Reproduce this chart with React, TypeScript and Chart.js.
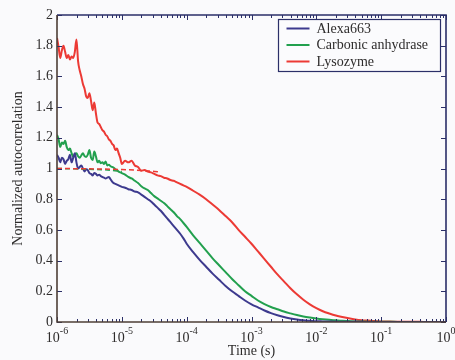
import React, { useEffect, useRef } from "react";
import { Chart, registerables } from "chart.js";

Chart.register(...registerables);

// Series labels and colours
const seriesNames = ["Alexa663", "Carbonic anhydrase", "Lysozyme"];
const seriesColors = ["#3d3a8e", "#22a04e", "#ec3a35"];

// Lag times (s) shared by the three measured curves
const lagTime = [
  // 1e-6 .. 1e-5
  1.0e-6, 1.059e-6, 1.122e-6, 1.189e-6, 1.259e-6, 1.334e-6, 1.413e-6, 1.496e-6, 1.585e-6, 1.679e-6,
  1.778e-6, 1.884e-6, 1.995e-6, 2.113e-6, 2.239e-6, 2.371e-6, 2.512e-6, 2.661e-6, 2.818e-6, 2.985e-6,
  3.162e-6, 3.35e-6, 3.548e-6, 3.758e-6, 3.981e-6, 4.217e-6, 4.467e-6, 4.732e-6, 5.012e-6, 5.309e-6,
  5.623e-6, 5.957e-6, 6.31e-6, 6.683e-6, 7.079e-6, 7.499e-6, 7.943e-6, 8.414e-6, 8.913e-6, 9.441e-6,
  // 1e-5 .. 1e-4
  1.0e-5, 1.122e-5, 1.259e-5, 1.413e-5, 1.585e-5, 1.778e-5, 1.995e-5, 2.239e-5, 2.512e-5, 2.818e-5,
  3.162e-5, 3.548e-5, 3.981e-5, 4.467e-5, 5.012e-5, 5.623e-5, 6.31e-5, 7.079e-5, 7.943e-5, 8.913e-5,
  // 1e-4 .. 1
  1.0e-4, 1.259e-4, 1.585e-4, 1.995e-4, 2.512e-4, 3.162e-4, 3.981e-4, 5.012e-4, 6.31e-4, 7.943e-4,
  1.0e-3, 1.259e-3, 1.585e-3, 1.995e-3, 2.512e-3, 3.162e-3, 3.981e-3, 5.012e-3, 6.31e-3, 7.943e-3,
  1.0e-2, 1.259e-2, 1.585e-2, 1.995e-2, 2.512e-2, 3.162e-2, 3.981e-2, 5.012e-2, 6.31e-2, 7.943e-2,
  1.0e-1, 1.259e-1, 1.585e-1, 1.995e-1, 2.512e-1, 3.162e-1, 3.981e-1, 5.012e-1, 6.31e-1, 7.943e-1,
  1.0,
];

// Alexa663 normalized autocorrelation
const alexaValue = [
  1.09, 1.07, 1.04, 1.07, 1.06, 1.03, 1.05, 1.06, 1.09, 1.04,
  1.07, 1.1, 1.04, 1.0, 1.01, 1.02, 1.0, 0.98, 0.995, 0.99,
  0.97, 0.965, 0.955, 0.97, 0.965, 0.955, 0.96, 0.95, 0.945, 0.94,
  0.935, 0.94, 0.945, 0.93, 0.915, 0.905, 0.9, 0.895, 0.89, 0.885,
  0.88, 0.875, 0.865, 0.86, 0.85, 0.845, 0.83, 0.815, 0.8, 0.785,
  0.765, 0.745, 0.725, 0.7, 0.675, 0.65, 0.625, 0.6, 0.575, 0.545,
  0.51, 0.455, 0.405, 0.36, 0.315, 0.275, 0.235, 0.2, 0.17, 0.14,
  0.115, 0.095, 0.075, 0.058, 0.044, 0.032, 0.023, 0.016, 0.011, 0.008,
  0.005, 0.004, 0.003, 0.002, 0.002, 0.001, 0.001, 0.001, 0.0, 0.0,
  0.0, 0.0, 0.0, 0.0, 0.0, 0.0, 0.0, 0.0, 0.0, 0.0,
  0.0,
];

// Carbonic anhydrase normalized autocorrelation
const carbonicValue = [
  1.22, 1.19, 1.14, 1.17, 1.16, 1.18, 1.14, 1.12, 1.13, 1.1,
  1.075, 1.09, 1.1, 1.08, 1.07, 1.085, 1.1, 1.08, 1.075, 1.09,
  1.12, 1.07, 1.055, 1.11, 1.08, 1.04, 1.05, 1.035, 1.04, 1.03,
  1.045, 1.02, 1.025, 1.015, 1.01, 1.005, 0.995, 0.99, 0.98, 0.975,
  0.97, 0.96, 0.945, 0.935, 0.92, 0.905, 0.885, 0.87, 0.86, 0.84,
  0.82, 0.805, 0.79, 0.775, 0.755, 0.735, 0.715, 0.69, 0.67, 0.645,
  0.62, 0.565, 0.515, 0.465, 0.415, 0.37, 0.325, 0.28, 0.24, 0.2,
  0.17, 0.14, 0.117, 0.098, 0.083, 0.068, 0.056, 0.045, 0.036, 0.029,
  0.023, 0.018, 0.014, 0.011, 0.008, 0.006, 0.004, 0.003, 0.002, 0.002,
  0.001, 0.001, 0.001, 0.0, 0.0, 0.0, 0.0, 0.0, 0.0, 0.0,
  0.0,
];

// Lysozyme normalized autocorrelation
const lysozymeValue = [
  1.85, 1.79, 1.72, 1.77, 1.8, 1.76, 1.72, 1.74, 1.71, 1.73,
  1.72, 1.76, 1.84, 1.7, 1.64, 1.6, 1.55, 1.52, 1.47, 1.46,
  1.49, 1.44, 1.38, 1.43, 1.36, 1.3, 1.29, 1.27, 1.25, 1.24,
  1.22, 1.21, 1.19, 1.18, 1.16, 1.15, 1.12, 1.13, 1.1, 1.07,
  1.03, 1.05, 1.04, 1.05, 1.02, 1.01, 0.985, 0.99, 0.98, 0.975,
  0.965, 0.955, 0.95, 0.94, 0.935, 0.925, 0.92, 0.91, 0.9, 0.89,
  0.88, 0.855, 0.83, 0.8, 0.765, 0.73, 0.69, 0.65, 0.6, 0.555,
  0.51, 0.46, 0.41, 0.36, 0.31, 0.265, 0.22, 0.18, 0.145, 0.115,
  0.09, 0.07, 0.055, 0.042, 0.032, 0.024, 0.017, 0.012, 0.009, 0.006,
  0.004, 0.003, 0.002, 0.002, 0.001, 0.001, 0.001, 0.0, 0.0, 0.0,
  0.0,
];

// Model fits at short lag times (dashed)
const carbonicFitTime = [1.0e-6, 3.0e-6, 6.0e-6, 1.0e-5];
const carbonicFitValue = [1.0, 0.995, 0.99, 0.98];
const lysozymeFitTime = [1.0e-6, 3.0e-6, 1.0e-5, 2.0e-5, 4.0e-5];
const lysozymeFitValue = [1.0, 0.998, 0.993, 0.987, 0.978];

// Axis ticks
const xTickExponents = [-6, -5, -4, -3, -2, -1, 0];
const yTickValues = [0, 0.2, 0.4, 0.6, 0.8, 1, 1.2, 1.4, 1.6, 1.8, 2];
const yTickLabels = ["0", "0.2", "0.4", "0.6", "0.8", "1", "1.2", "1.4", "1.6", "1.8", "2"];

const xTitle = "Time (s)";
const yTitle = "Normalized autocorrelation";

const FONT = "'Liberation Serif', 'Times New Roman', serif";
const TEXT = "#2e2c2c";
const FRAME_LB = "#4e3f36";
const FRAME_TR = "#2b2f68";

const toPoints = (t: number[], v: number[]) => t.map((x, i) => ({ x, y: v[i] }));

const framePlugin = {
  id: "frameAndLabels",
  beforeDraw(chart: any) {
    const { ctx, width, height } = chart;
    ctx.save();
    ctx.fillStyle = "#fafafc";
    ctx.fillRect(0, 0, width, height);
    ctx.restore();
  },
  afterDraw(chart: any) {
    const { ctx, chartArea: a, scales } = chart;
    const xs = scales.x;
    const ys = scales.y;
    ctx.save();

    // inward tick marks
    ctx.lineWidth = 1;
    ctx.strokeStyle = FRAME_TR;
    for (let k = 0; k < xTickExponents.length; k++) {
      const e = xTickExponents[k];
      const maxM = k === xTickExponents.length - 1 ? 1 : 9;
      for (let m = 1; m <= maxM; m++) {
        const px = Math.round(xs.getPixelForValue(m * Math.pow(10, e))) + 0.5;
        const len = m === 1 ? 5 : 3;
        ctx.beginPath();
        ctx.moveTo(px, a.bottom);
        ctx.lineTo(px, a.bottom - len);
        ctx.moveTo(px, a.top);
        ctx.lineTo(px, a.top + len);
        ctx.stroke();
      }
    }
    for (const v of yTickValues) {
      const py = Math.round(ys.getPixelForValue(v)) + 0.5;
      ctx.beginPath();
      ctx.moveTo(a.left, py);
      ctx.lineTo(a.left + 5, py);
      ctx.moveTo(a.right, py);
      ctx.lineTo(a.right - 5, py);
      ctx.stroke();
    }

    // frame
    ctx.lineWidth = 1.6;
    ctx.strokeStyle = FRAME_TR;
    ctx.beginPath();
    ctx.moveTo(a.left, a.top);
    ctx.lineTo(a.right, a.top);
    ctx.lineTo(a.right, a.bottom);
    ctx.stroke();
    ctx.strokeStyle = FRAME_LB;
    ctx.beginPath();
    ctx.moveTo(a.left, a.top);
    ctx.lineTo(a.left, a.bottom);
    ctx.lineTo(a.right, a.bottom);
    ctx.stroke();

    // x tick labels with superscript exponents
    ctx.fillStyle = TEXT;
    ctx.textBaseline = "alphabetic";
    ctx.textAlign = "left";
    for (const e of xTickExponents) {
      const px = xs.getPixelForValue(Math.pow(10, e));
      const base = "10";
      const exp = e < 0 ? "-" + Math.abs(e) : String(e);
      ctx.font = `14px ${FONT}`;
      const wb = ctx.measureText(base).width;
      ctx.font = `10px ${FONT}`;
      const we = ctx.measureText(exp).width;
      const x0 = px - (wb + we) / 2;
      ctx.font = `14px ${FONT}`;
      ctx.fillText(base, x0, a.bottom + 20);
      ctx.font = `10px ${FONT}`;
      ctx.fillText(exp, x0 + wb, a.bottom + 12);
    }

    // axis titles
    ctx.font = `14px ${FONT}`;
    ctx.textAlign = "center";
    ctx.textBaseline = "middle";
    ctx.fillText(xTitle, (a.left + a.right) / 2, 351);
    ctx.save();
    ctx.translate(18, (a.top + a.bottom) / 2);
    ctx.rotate(-Math.PI / 2);
    ctx.fillText(yTitle, 0, 0);
    ctx.restore();

    // legend box
    const lx = 278.5;
    const ly = 19.5;
    const lw = 162;
    const lh = 52;
    ctx.fillStyle = "#fbfbfd";
    ctx.fillRect(lx, ly, lw, lh);
    ctx.lineWidth = 1.2;
    ctx.strokeStyle = FRAME_TR;
    ctx.strokeRect(lx, ly, lw, lh);
    ctx.textAlign = "left";
    ctx.textBaseline = "middle";
    ctx.font = `14px ${FONT}`;
    for (let i = 0; i < seriesNames.length; i++) {
      const cy = ly + 9 + i * 16.5;
      ctx.strokeStyle = seriesColors[i];
      ctx.lineWidth = 2;
      ctx.beginPath();
      ctx.moveTo(lx + 8, cy);
      ctx.lineTo(lx + 31, cy);
      ctx.stroke();
      ctx.fillStyle = TEXT;
      ctx.fillText(seriesNames[i], lx + 38, cy + 0.5);
    }
    ctx.restore();
  },
};

export default function App() {
  const canvasRef = useRef<HTMLCanvasElement | null>(null);

  useEffect(() => {
    const canvas = canvasRef.current;
    if (!canvas) return;
    const lineDs = (label: string, data: any[], color: string, dashed = false) => ({
      label,
      data,
      borderColor: color,
      backgroundColor: color,
      borderWidth: dashed ? 1.5 : 2,
      borderDash: dashed ? [5, 3] : [],
      pointRadius: 0,
      cubicInterpolationMode: "monotone" as const,
      fill: false,
    });
    const chart = new Chart(canvas, {
      type: "line",
      data: {
        datasets: [
          lineDs("Lysozyme fit", toPoints(lysozymeFitTime, lysozymeFitValue), seriesColors[2], true),
          lineDs("Carbonic anhydrase fit", toPoints(carbonicFitTime, carbonicFitValue), seriesColors[1], true),
          lineDs(seriesNames[0], toPoints(lagTime, alexaValue), seriesColors[0]),
          lineDs(seriesNames[1], toPoints(lagTime, carbonicValue), seriesColors[1]),
          lineDs(seriesNames[2], toPoints(lagTime, lysozymeValue), seriesColors[2]),
        ],
      },
      options: {
        animation: false,
        responsive: false,
        devicePixelRatio: 1,
        layout: { padding: { left: 0, right: 9, top: 15, bottom: 0 } },
        plugins: {
          legend: { display: false },
          tooltip: { enabled: false },
          title: { display: false },
        },
        scales: {
          x: {
            type: "logarithmic",
            min: 1e-6,
            max: 1,
            grid: { display: false, drawTicks: false },
            border: { display: false },
            ticks: { display: false },
            afterBuildTicks: (scale: any) => {
              scale.ticks = xTickExponents.map((e) => ({ value: Math.pow(10, e) }));
            },
            afterFit: (scale: any) => {
              scale.height = 38;
            },
          },
          y: {
            type: "linear",
            min: 0,
            max: 2,
            grid: { display: false, drawTicks: false },
            border: { display: false },
            ticks: {
              padding: 4,
              color: TEXT,
              font: { family: FONT, size: 14 },
              callback: (_v: any, i: number) => yTickLabels[i],
            },
            afterBuildTicks: (scale: any) => {
              scale.ticks = yTickValues.map((v) => ({ value: v }));
            },
            afterFit: (scale: any) => {
              scale.width = 57;
            },
          },
        },
      },
      plugins: [framePlugin],
    });
    return () => chart.destroy();
  }, []);

  return (
    <div style={{ position: "fixed", left: 0, top: 0, width: 455, height: 360 }}>
      <canvas ref={canvasRef} width={455} height={360} />
    </div>
  );
}
